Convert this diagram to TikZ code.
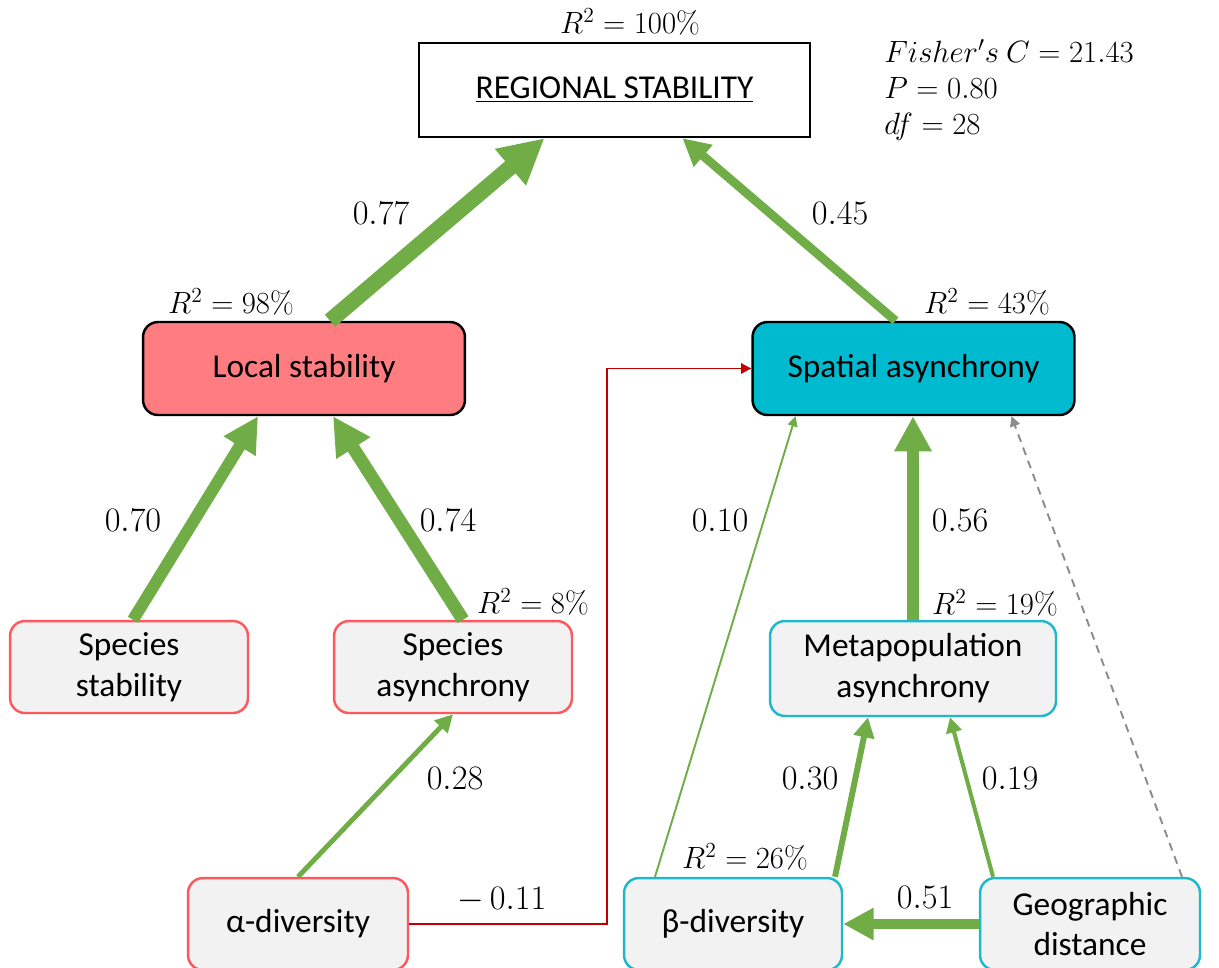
\RequirePackage{fix-cm}
\documentclass[tikz,border=0pt]{standalone}
\usepackage[no-math]{fontspec}
\setmainfont{Carlito}
\usetikzlibrary{arrows.meta,calc}

\definecolor{effgreen}{RGB}{112,173,71}
\definecolor{effred}{RGB}{192,0,0}
\definecolor{effgrey}{RGB}{140,140,140}
\definecolor{localfill}{RGB}{255,124,128}
\definecolor{spatialfill}{RGB}{0,187,207}
\definecolor{lightfill}{RGB}{242,242,242}
\definecolor{redline}{RGB}{255,88,92}
\definecolor{cyanline}{RGB}{30,184,205}

\tikzset{
  box/.style={draw, line width=1.4pt, rounded corners=0.3cm, align=center, inner sep=0pt,
    font=\fontsize{19}{23.3}\selectfont},
  regionbox/.style={box, rounded corners=0pt, fill=white, minimum width=7.82cm, minimum height=1.88cm},
  mainbox/.style={box, minimum width=6.44cm, minimum height=1.86cm},
  redbox/.style={box, draw=redline, fill=lightfill, minimum width=4.76cm, minimum height=1.84cm},
  cyanbox/.style={box, draw=cyanline, fill=lightfill, minimum width=4.4cm, minimum height=1.84cm},
  eff/.style={draw=effgreen, line width=#1, -{Triangle[length=3pt 2.5, width=3pt 2.5]}},
  negline/.style={draw=effred, line width=1.1pt, -{Triangle[length=3pt 2.5, width=3pt 2.5]}},
  nsline/.style={draw=effgrey, line width=1.1pt, dash pattern=on 4.5pt off 3.5pt,
    -{Triangle[length=3pt 2.5, width=3pt 2.5]}},
  coef/.style={inner sep=0pt, font=\fontsize{19.5}{22}\selectfont},
  rsq/.style={inner sep=0pt, font=\fontsize{17.5}{20.5}\selectfont}
}

\begin{document}
\begin{tikzpicture}[x=0.02cm, y=-0.02cm]
  %%%%% START %%%%%
  \clip (0,0) rectangle (1219,967);

  % boxes
  \node[regionbox] (reg) at (614.5,90) {\underline{REGIONAL STABILITY}};
  \node[mainbox, fill=localfill] (loc) at (304,368.5) {Local stability};
  \node[mainbox, fill=spatialfill] (spa) at (913.5,368.5) {Spatial asynchrony};

  \node[redbox] (sst) at (129,667) {Species\\stability};
  \node[redbox] (sas) at (453,667) {Species\\asynchrony};
  \node[cyanbox, minimum width=5.72cm, minimum height=1.9cm] (met) at (913,668.5) {Metapopulation\\asynchrony};

  \node[redbox, minimum width=4.4cm] (alp) at (298,924) {α-diversity};
  \node[cyanbox, minimum width=4.36cm] (bet) at (733,924) {β-diversity};
  \node[cyanbox] (geo) at (1090,924) {Geographic\\distance};

  % paths
  \draw[eff=9pt] ($(loc.north)+(26,0)$) -- ($(reg.south)+(-70,0)$);
  \draw[eff=5pt] ($(spa.north)+(-18,0)$) -- ($(reg.south)+(68,0)$);
  \draw[eff=6.8pt] ($(sst.north)+(4,0)$) -- ($(loc.south)+(-46,0)$);
  \draw[eff=7.4pt] ($(sas.north)+(10,0)$) -- ($(loc.south)+(29,0)$);
  \draw[eff=2.8pt] (alp.north) -- (sas.south);
  \draw[negline] (alp.east) -- ++(198,0) |- (spa.west);
  \draw[eff=1.1pt] ($(bet.north)+(-78,0)$) -- ($(spa.south)+(-118,0)$);
  \draw[eff=6.8pt] (met.north) -- (met.north |- spa.south);
  \draw[eff=3.4pt] ($(bet.north)+(102,0)$) -- ($(met.south)+(-45,0)$);
  \draw[eff=2.3pt] ($(geo.north)+(-97,0)$) -- ($(met.south)+(37,0)$);
  \draw[eff=5.7pt] (geo.west) -- (bet.east);
  \draw[nsline] ($(geo.north)+(92,0)$) -- ($(spa.south)+(98,0)$);

  % coefficients
  \node[coef] (c77) at (381,213) {$0.77$};
  \node[coef] (c45) at (840,213) {$0.45$};
  \node[coef] (c70) at (133,520) {$0.70$};
  \node[coef] (c74) at (448,520) {$0.74$};
  \node[coef] (c10) at (720,520) {$0.10$};
  \node[coef] (c56) at (960,520) {$0.56$};
  \node[coef] (c28) at (455,778) {$0.28$};
  \node[coef] (c30) at (810,778) {$0.30$};
  \node[coef] (c19) at (1010,778) {$0.19$};
  \node[coef] (c11) at (502,900) {$-\,0.11$};
  \node[coef] (c51) at (925,897) {$0.51$};

  % explained variance
  \node[rsq] (rreg) at (630,22) {$R^2 = 100\%$};
  \node[rsq] (rloc) at (231,302) {$R^2 = 98\%$};
  \node[rsq] (rspa) at (987,302) {$R^2 = 43\%$};
  \node[rsq] (rsas) at (533,602) {$R^2 = 8\%$};
  \node[rsq] (rmet) at (995,603) {$R^2 = 19\%$};
  \node[rsq] (rbet) at (745,857) {$R^2 = 26\%$};

  % fit
  \node[rsq, anchor=west, align=left] (fit) at (884,90)
    {$Fisher's\ C = 21.43$\\$P = 0.80$\\$df = 28$};
  %%%%% END %%%%%
\end{tikzpicture}
\end{document}
